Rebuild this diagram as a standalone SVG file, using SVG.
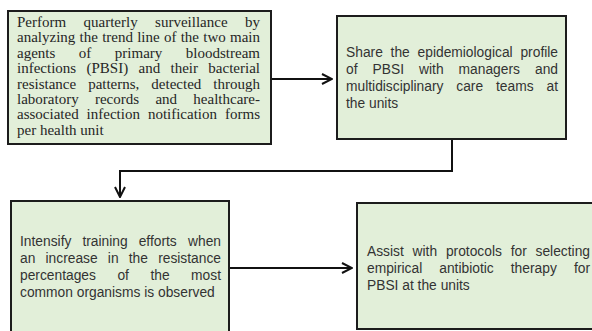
<svg xmlns="http://www.w3.org/2000/svg" width="592" height="331" viewBox="0 0 592 331">
<style>
.box{fill:#e2efd9;stroke:#1c1c1c;stroke-width:2}
.serif{font-family:"Liberation Serif","Times New Roman",serif;font-size:15px;fill:#262626}
.sans{font-family:"Liberation Sans",Arial,sans-serif;font-size:13.8px;fill:#333}
.conn{fill:none;stroke:#111;stroke-width:2}
</style>
<defs>
<marker id="arr" viewBox="0 0 12 12" refX="11" refY="6" markerWidth="12" markerHeight="12" markerUnits="userSpaceOnUse" orient="auto">
<path d="M1,1 L11,6 L1,11" fill="none" stroke="#111" stroke-width="2"/>
</marker>
</defs>
<rect width="592" height="331" fill="#fff"/>
<g id="connectors">
<path class="conn" d="M271,79 H332" marker-end="url(#arr)"/>
<path class="conn" d="M452,139 V171 H120 V197" marker-end="url(#arr)"/>
<path class="conn" d="M229,268 H352" marker-end="url(#arr)"/>
</g>
<g id="node1">
<rect class="box" x="8" y="11" width="263" height="133"/>
<text class="serif" y="27"><tspan x="17">Perform</tspan><tspan x="83.56">quarterly</tspan><tspan x="155.11">surveillance</tspan><tspan x="244.99">by</tspan></text>
<text class="serif" y="42.4"><tspan x="17">analyzing</tspan><tspan x="79.56">the</tspan><tspan x="102.14">trend</tspan><tspan x="137.21">line</tspan><tspan x="163.95">of</tspan><tspan x="180.69">the</tspan><tspan x="203.27">two</tspan><tspan x="230.01">main</tspan></text>
<text class="serif" y="57.8"><tspan x="17">agents</tspan><tspan x="78.84">of</tspan><tspan x="114.85">primary</tspan><tspan x="185.85">bloodstream</tspan></text>
<text class="serif" y="73.2"><tspan x="17">infections</tspan><tspan x="86.5">(PBSI)</tspan><tspan x="138.51">and</tspan><tspan x="170.51">their</tspan><tspan x="208.35">bacterial</tspan></text>
<text class="serif" y="88.6"><tspan x="17">resistance</tspan><tspan x="88.14">patterns,</tspan><tspan x="151.37">detected</tspan><tspan x="213.34">through</tspan></text>
<text class="serif" y="104"><tspan x="17">laboratory</tspan><tspan x="94.95">records</tspan><tspan x="155.4">and</tspan><tspan x="193.36">healthcare-</tspan></text>
<text class="serif" y="119.4"><tspan x="17">associated</tspan><tspan x="86.6">infection</tspan><tspan x="147.88">notification</tspan><tspan x="225">forms</tspan></text>
<text class="serif" x="17" y="134.8">per health unit</text>
</g>
<g id="node2">
<rect class="box" x="337" y="16" width="229" height="123"/>
<text class="sans" y="56.5"><tspan x="346">Share</tspan><tspan x="390.6">the</tspan><tspan x="417.56">epidemiological</tspan><tspan x="520.44">profile</tspan></text>
<text class="sans" y="73.5"><tspan x="346">of</tspan><tspan x="372.54">PBSI</tspan><tspan x="419.02">with</tspan><tspan x="458.59">managers</tspan><tspan x="534.97">and</tspan></text>
<text class="sans" y="90.5"><tspan x="346">multidisciplinary</tspan><tspan x="456.27">care</tspan><tspan x="496.01">teams</tspan><tspan x="546.49">at</tspan></text>
<text class="sans" x="346" y="107.5">the units</text>
</g>
<g id="node3">
<rect class="box" x="11" y="201" width="218" height="136"/>
<text class="sans" y="245.5"><tspan x="20">Intensify</tspan><tspan x="82.4">training</tspan><tspan x="138.66">efforts</tspan><tspan x="188.02">when</tspan></text>
<text class="sans" y="262.5"><tspan x="20">an</tspan><tspan x="45.53">increase</tspan><tspan x="107.86">in</tspan><tspan x="128.78">the</tspan><tspan x="158.14">resistance</tspan></text>
<text class="sans" y="279.5"><tspan x="20">percentages</tspan><tspan x="117.43">of</tspan><tspan x="150.43">the</tspan><tspan x="191.1">most</tspan></text>
<text class="sans" x="20" y="296.5">common organisms is observed</text>
</g>
<g id="node4">
<rect class="box" x="357" y="203" width="245" height="126"/>
<text class="sans" y="255.5"><tspan x="367">Assist</tspan><tspan x="412.58">with</tspan><tspan x="445.9">protocols</tspan><tspan x="510.67">for</tspan><tspan x="535.55">selecting</tspan></text>
<text class="sans" y="272.5"><tspan x="367">empirical</tspan><tspan x="439.27">antibiotic</tspan><tspan x="510.79">therapy</tspan><tspan x="573.88">for</tspan></text>
<text class="sans" x="367" y="289.5">PBSI at the units</text>
</g>
</svg>
